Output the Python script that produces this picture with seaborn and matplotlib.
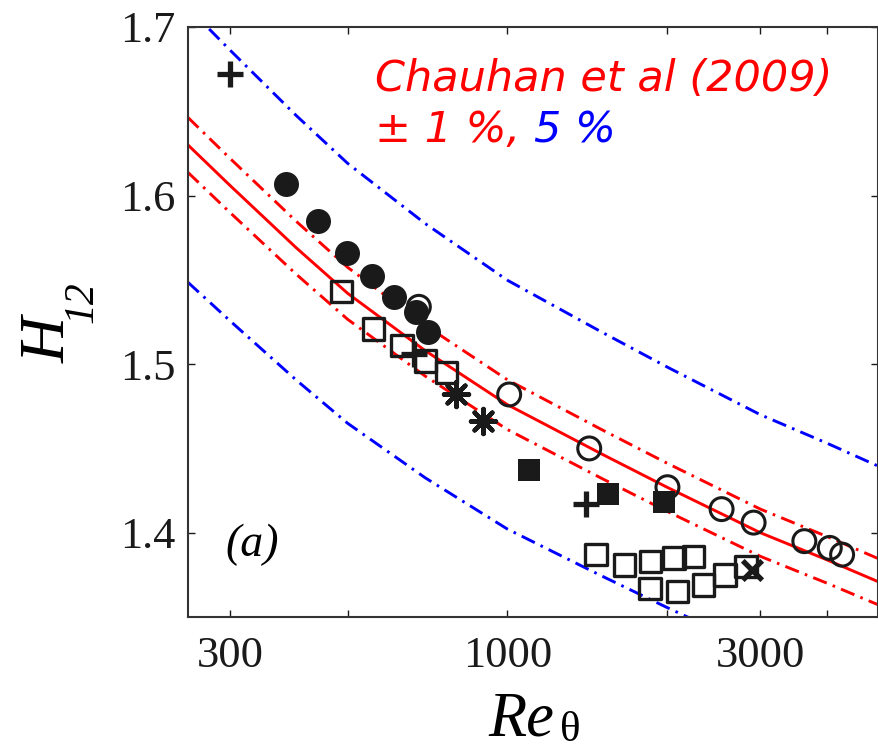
import numpy as np
import pandas as pd
import seaborn as sns
import matplotlib
import matplotlib.pyplot as plt
from matplotlib.ticker import FixedLocator, FixedFormatter, NullLocator

# Chauhan et al (2009) curve
re_curve = [250, 300, 400, 500, 700, 1000, 1500, 2000, 3000, 4000, 5000]
h_curve = [1.630, 1.606, 1.569, 1.542, 1.508, 1.476, 1.447, 1.427, 1.400, 1.384, 1.371]

# data points
re_fcirc = [383, 440, 499, 556, 612, 673, 709]
h_fcirc = [1.607, 1.585, 1.566, 1.552, 1.540, 1.531, 1.519]

re_ocirc = [681, 1008, 1427, 2004, 2535, 2913, 3631, 4055, 4278]
h_ocirc = [1.534, 1.482, 1.450, 1.427, 1.414, 1.406, 1.395, 1.391, 1.387]

re_osq = [487, 559, 633, 701, 768, 1470, 1663, 1860, 2064, 2244, 1857, 2094, 2342, 2572, 2820]
h_osq = [1.543, 1.521, 1.511, 1.502, 1.495, 1.387, 1.381, 1.383, 1.385, 1.386,
         1.367, 1.365, 1.369, 1.375, 1.380]

re_fsq = [1098, 1547, 1976]
h_fsq = [1.437, 1.423, 1.418]

re_plus = [300, 667, 1407]
h_plus = [1.672, 1.506, 1.417]

re_ast = [800, 898]
h_ast = [1.482, 1.466]

re_x = [2892]
h_x = [1.378]

xticks = [300, 500, 1000, 2000, 3000, 4000]
xticklabels = ['300', '', '1000', '', '3000', '']
yticks = [1.4, 1.5, 1.6, 1.7]

sns.set_theme(style='white')
plt.rcParams['font.family'] = ['Liberation Serif', 'DejaVu Sans']
plt.rcParams['text.color'] = 'black'

W, H = 879, 752
fig = plt.figure(figsize=(W / 100, H / 100), dpi=100)
ax = fig.add_axes([0.2139, 0.1795, 0.785, 0.7846])

df = pd.DataFrame({'re': re_curve, 'h': h_curve})
dashdot = (0, (5.0, 2.2, 0.9, 2.2))
lw = 2.1
sns.lineplot(data=df, x='re', y='h', color='red', lw=lw, ax=ax)
sns.lineplot(x=df['re'], y=df['h'] * 1.01, color='red', lw=lw, linestyle=dashdot, ax=ax)
sns.lineplot(x=df['re'], y=df['h'] * 0.99, color='red', lw=lw, linestyle=dashdot, ax=ax)
sns.lineplot(x=df['re'], y=df['h'] * 1.05, color='blue', lw=lw, linestyle=dashdot, ax=ax)
sns.lineplot(x=df['re'], y=df['h'] * 0.95, color='blue', lw=lw, linestyle=dashdot, ax=ax)

# markers
sns.scatterplot(x=re_ocirc, y=h_ocirc, marker='o', s=16.5**2, facecolor='none',
                edgecolor='k', linewidth=2.2, ax=ax, zorder=3)
sns.scatterplot(x=re_fcirc, y=h_fcirc, marker='o', s=18**2, color='k',
                edgecolor='k', linewidth=0, ax=ax, zorder=4)
sns.scatterplot(x=re_osq, y=h_osq, marker='s', s=15.5**2, facecolor='none',
                edgecolor='k', linewidth=2.4, ax=ax, zorder=3)
sns.scatterplot(x=re_fsq, y=h_fsq, marker='s', s=16**2, color='k',
                edgecolor='k', linewidth=0, ax=ax, zorder=4)
sns.scatterplot(x=re_plus, y=h_plus, marker='+', s=19**2, color='k',
                linewidth=3.8, ax=ax, zorder=4)
sns.scatterplot(x=re_ast, y=h_ast, marker=(8, 2, 0), s=18**2, color='k',
                linewidth=3.2, ax=ax, zorder=4)
sns.scatterplot(x=re_x, y=h_x, marker='x', s=14**2, color='k',
                linewidth=3.8, ax=ax, zorder=5)

ax.set_xscale('log')
ax.set_xlim(250, 5000)
ax.set_ylim(1.35, 1.7)
ax.xaxis.set_major_locator(FixedLocator(xticks))
ax.xaxis.set_major_formatter(FixedFormatter(xticklabels))
ax.xaxis.set_minor_locator(NullLocator())
ax.set_yticks(yticks)
ax.set_yticklabels(['1.4', '1.5', '1.6', '1.7'])
ax.set_xlabel('')
ax.set_ylabel('')

ax.tick_params(axis='both', which='major', direction='in', length=5, width=1,
               top=True, right=True, bottom=True, left=True,
               labelsize=32, colors='k')
ax.tick_params(axis='x', pad=14)
ax.tick_params(axis='y', pad=9)
for sp in ax.spines.values():
    sp.set_color('#333333')
    sp.set_linewidth(1.5)

# axis titles, MATLAB-style with big lowered subscripts
fig.text(50 / W, 1 - 340 / H, 'H', fontsize=46, fontstyle='italic',
         rotation=90, ha='center', va='center')
fig.text(82 / W, 1 - 302 / H, '12', fontsize=30, fontstyle='italic',
         rotation=90, ha='center', va='center')
fig.text(488 / W, 1 - 735 / H, 'Re', fontsize=45, fontstyle='italic',
         ha='left', va='baseline')
fig.text(560 / W, 1 - 750 / H, '\u03b8', fontsize=31,
         ha='left', va='bottom')

# annotations
ax.text(0.271, 0.891, 'Chauhan et al (2009)', transform=ax.transAxes, color='red',
        fontsize=31, fontfamily='DejaVu Sans', fontstyle='oblique', va='baseline')
t2 = ax.text(0.271, 0.805, '\u00b1 1 %, ', transform=ax.transAxes, color='red',
             fontsize=31, fontfamily='DejaVu Sans', fontstyle='oblique', va='baseline')
ax.annotate('5 %', xy=(1, 0), xycoords=t2, color='blue', fontsize=31,
            fontfamily='DejaVu Sans', fontstyle='oblique', va='bottom', ha='left')
ax.text(0.054, 0.122, '(a)', transform=ax.transAxes, fontsize=33,
        fontstyle='italic', va='center', ha='left')

fig.savefig('out.png', dpi=100)
